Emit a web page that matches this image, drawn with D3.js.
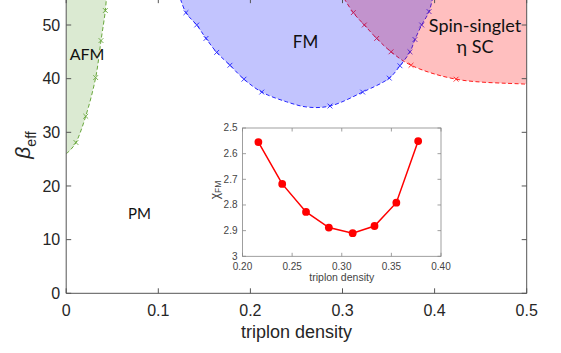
<!DOCTYPE html>
<html><head><meta charset="utf-8">
<script src="https://cdn.jsdelivr.net/npm/d3@7"></script>
<style>
html,body{margin:0;padding:0;background:#fff;}
svg{display:block;}
</style></head>
<body>
<svg id="chart" width="561" height="353"></svg>
<script>
// ---------- DATA ----------
const xTicks = [0, 0.1, 0.2, 0.3, 0.4, 0.5];
const xTickLabels = ["0", "0.1", "0.2", "0.3", "0.4", "0.5"];
const yTicks = [0, 10, 20, 30, 40, 50];
const yTickLabels = ["0", "10", "20", "30", "40", "50"];

// AFM boundary (triplon density, beta_eff)
const afmDensity = [0, 0.005, 0.0106, 0.0212, 0.032, 0.0378, 0.0425, 0.044];
const afmBeta    = [26, 26.8, 28.1, 33.0, 40.2, 47.1, 52.7, 56];
const afmMarkDensity = [0.0106, 0.0212, 0.032, 0.0378, 0.0425];
const afmMarkBeta    = [28.1, 33.0, 40.2, 47.1, 52.7];

// FM boundary (closed dome)
const fmDensity = [0.122, 0.130, 0.1417, 0.1518, 0.1634, 0.1778, 0.193, 0.2123, 0.239, 0.262, 0.2864, 0.3219, 0.3508, 0.3624, 0.3733, 0.3787, 0.386, 0.394, 0.399];
const fmBeta    = [56, 52.3, 50.0, 47.5, 44.9, 42.5, 39.9, 37.5, 35.7, 34.7, 34.9, 37.5, 40.1, 42.4, 45.0, 47.3, 50.0, 52.5, 56];
const fmMarkDensity = [0.130, 0.1417, 0.1518, 0.1634, 0.1778, 0.193, 0.2123, 0.2864, 0.3219, 0.3508, 0.3624, 0.3733, 0.3787, 0.386, 0.394];
const fmMarkBeta    = [52.3, 50.0, 47.5, 44.9, 42.5, 39.9, 37.5, 34.9, 37.5, 40.1, 42.4, 45.0, 47.3, 50.0, 52.5];

// Spin-singlet eta SC boundary
const scDensity = [0.298, 0.3117, 0.3237, 0.3371, 0.3527, 0.3744, 0.4233, 0.4963, 0.52];
const scBeta    = [56, 52.3, 50.0, 47.5, 45.0, 42.5, 39.9, 39.0, 38.8];
const scMarkDensity = [0.3117, 0.3237, 0.3371, 0.3527, 0.3744, 0.4233];
const scMarkBeta    = [52.3, 50.0, 47.5, 45.0, 42.5, 39.9];

// Inset: chi_FM vs triplon density
const insetDensity = [0.216, 0.240, 0.264, 0.287, 0.311, 0.333, 0.355, 0.377];
const insetChi     = [2.555, 2.718, 2.827, 2.888, 2.910, 2.882, 2.791, 2.551];
const insetXTicks = [0.20, 0.25, 0.30, 0.35, 0.40];
const insetXTickLabels = ["0.20", "0.25", "0.30", "0.35", "0.40"];
const insetYTicks = [2.5, 2.6, 2.7, 2.8, 2.9, 3.0];
const insetYTickLabels = ["2.5", "2.6", "2.7", "2.8", "2.9", "3"];

// ---------- DRAW ----------
const svg = d3.select("#chart");
const L = 66.2, R = 526.7, B = 293.3;
const x = d3.scaleLinear().domain([0, 0.5]).range([L, R]);
const y = d3.scaleLinear().domain([0, 55]).range([B, B - 55 * 5.366]);
const T = y(55);
const axisCol = "#555";
const tickFont = "'Liberation Sans', Arial, sans-serif";
const labelFont = "Lato, 'Open Sans', sans-serif";

svg.append("defs").append("clipPath").attr("id", "plotClip")
  .append("rect").attr("x", L).attr("y", T).attr("width", R - L).attr("height", B - T);

const plot = svg.append("g").attr("clip-path", "url(#plotClip)");
const zip = (a, b) => a.map((v, i) => [v, b[i]]);
const curveLine = d3.line().x(d => x(d[0])).y(d => y(d[1])).curve(d3.curveCatmullRom.alpha(0.5));

const afmPts = zip(afmDensity, afmBeta);
const fmPts = zip(fmDensity, fmBeta);
const scPts = zip(scDensity, scBeta);

const dash = "4,2.5";
function drawLine(pts, col) {
  plot.append("path").attr("d", curveLine(pts)).attr("fill", "none")
    .attr("stroke", col).attr("stroke-width", 1).attr("stroke-dasharray", dash);
}
function drawMarks(dx, dy, col) {
  plot.selectAll(null).data(zip(dx, dy)).enter().append("path")
    .attr("transform", d => `translate(${x(d[0])},${y(d[1])})`)
    .attr("d", "M-2.4,-2.4L2.4,2.4M-2.4,2.4L2.4,-2.4")
    .attr("stroke", col).attr("stroke-width", 0.9).attr("fill", "none");
}
drawLine(afmPts, "#6aa83c");
drawLine(scPts, "#ff2020");
drawLine(fmPts, "#2a2aff");
drawMarks(afmMarkDensity, afmMarkBeta, "#6aa83c");
drawMarks(scMarkDensity, scMarkBeta, "#ff2020");
drawMarks(fmMarkDensity, fmMarkBeta, "#2a2aff");

// fills (semi-transparent, on top of lines)
const afmArea = curveLine(afmPts) + `L${x(0)},${y(56)}Z`;
plot.append("path").attr("d", afmArea).attr("fill", "rgb(90,160,50)").attr("fill-opacity", 0.22);
const scArea = curveLine(scPts) + `L${x(0.52)},${y(56)}Z`;
plot.append("path").attr("d", scArea).attr("fill", "rgb(255,0,0)").attr("fill-opacity", 0.25);
const fmArea = curveLine(fmPts) + "Z";
plot.append("path").attr("d", fmArea).attr("fill", "rgb(0,10,250)").attr("fill-opacity", 0.24);

// axes box
const ax = svg.append("g").attr("stroke", axisCol).attr("stroke-width", 1).attr("fill", "none");
ax.append("path").attr("d", `M${L},${T}L${L},${B}L${R},${B}L${R},${T}`);
ax.append("path").attr("d", `M${L},${T}L${R},${T}`);
const tl = 5;
xTicks.forEach(t => {
  ax.append("path").attr("d", `M${x(t)},${B}v${-tl}M${x(t)},${T}v${tl}`);
});
yTicks.forEach(t => {
  ax.append("path").attr("d", `M${L},${y(t)}h${tl}M${R},${y(t)}h${-tl}`);
});
svg.selectAll(null).data(xTicks).enter().append("text")
  .attr("x", d => x(d)).attr("y", B + 23).attr("text-anchor", "middle")
  .attr("font-family", tickFont).attr("font-size", 16).attr("fill", "#262626")
  .text((d, i) => xTickLabels[i]);
svg.selectAll(null).data(yTicks).enter().append("text")
  .attr("x", L - 6).attr("y", d => y(d) + 5.8).attr("text-anchor", "end")
  .attr("font-family", tickFont).attr("font-size", 16).attr("fill", "#262626")
  .text((d, i) => yTickLabels[i]);

svg.append("text").attr("x", (L + R) / 2).attr("y", 338).attr("text-anchor", "middle")
  .attr("font-family", tickFont).attr("font-size", 18).attr("fill", "#262626")
  .text("triplon density");
const yl = svg.append("text").attr("transform", "translate(30,145) rotate(-90)")
  .attr("text-anchor", "middle").attr("font-family", tickFont).attr("fill", "#262626");
yl.append("tspan").attr("font-size", 21).attr("font-style", "italic").text("β");
yl.append("tspan").attr("font-size", 14).attr("dy", 6).text("eff");

// region labels
const lab = (t, px, py, fs) => svg.append("text").attr("x", px).attr("y", py)
  .attr("text-anchor", "middle").attr("font-family", labelFont).attr("font-size", fs)
  .attr("fill", "#111").text(t);
lab("AFM", 87, 60, 16);
lab("FM", 305.5, 48, 17);
lab("PM", 139.5, 219, 15);
lab("Spin-singlet", 475, 31.5, 18);
lab("η SC", 475, 53, 18);

// ---------- INSET ----------
const iL = 242.5, iR = 441, iT = 128, iB = 256.3;
const ix = d3.scaleLinear().domain([0.2, 0.4]).range([iL, iR]);
const iy = d3.scaleLinear().domain([2.5, 3.0]).range([iT, iB]);
const ins = svg.append("g");
ins.append("rect").attr("x", iL).attr("y", iT).attr("width", iR - iL).attr("height", iB - iT)
  .attr("fill", "#fff").attr("stroke", "#888").attr("stroke-width", 0.8);
const itl = 3.5;
insetXTicks.forEach(t => {
  ins.append("path").attr("d", `M${ix(t)},${iB}v${-itl}M${ix(t)},${iT}v${itl}`)
    .attr("stroke", "#888").attr("stroke-width", 0.8);
});
insetYTicks.forEach(t => {
  ins.append("path").attr("d", `M${iL},${iy(t)}h${itl}M${iR},${iy(t)}h${-itl}`)
    .attr("stroke", "#888").attr("stroke-width", 0.8);
});
ins.selectAll(null).data(insetXTicks).enter().append("text")
  .attr("x", d => ix(d)).attr("y", iB + 14).attr("text-anchor", "middle")
  .attr("font-family", tickFont).attr("font-size", 10).attr("fill", "#444")
  .text((d, i) => insetXTickLabels[i]);
ins.selectAll(null).data(insetYTicks).enter().append("text")
  .attr("x", iL - 5).attr("y", d => iy(d) + 3.2).attr("text-anchor", "end")
  .attr("font-family", tickFont).attr("font-size", 10).attr("fill", "#444")
  .text((d, i) => insetYTickLabels[i]);
ins.append("text").attr("x", (iL + iR) / 2).attr("y", 281).attr("text-anchor", "middle")
  .attr("font-family", tickFont).attr("font-size", 10.5).attr("fill", "#444").text("triplon density");
const iyl = ins.append("text").attr("transform", "translate(219,190) rotate(-90)")
  .attr("text-anchor", "middle").attr("font-family", tickFont).attr("fill", "#444");
iyl.append("tspan").attr("font-size", 12).text("χ");
iyl.append("tspan").attr("font-size", 8.5).attr("dy", 2).text("FM");

const iline = d3.line().x(d => ix(d[0])).y(d => iy(d[1]));
const iPts = zip(insetDensity, insetChi);
ins.append("path").attr("d", iline(iPts)).attr("fill", "none").attr("stroke", "#ff0000").attr("stroke-width", 1.5);
ins.selectAll(null).data(iPts).enter().append("circle")
  .attr("cx", d => ix(d[0])).attr("cy", d => iy(d[1])).attr("r", 3.9).attr("fill", "#ff0000");
</script>
</body></html>
